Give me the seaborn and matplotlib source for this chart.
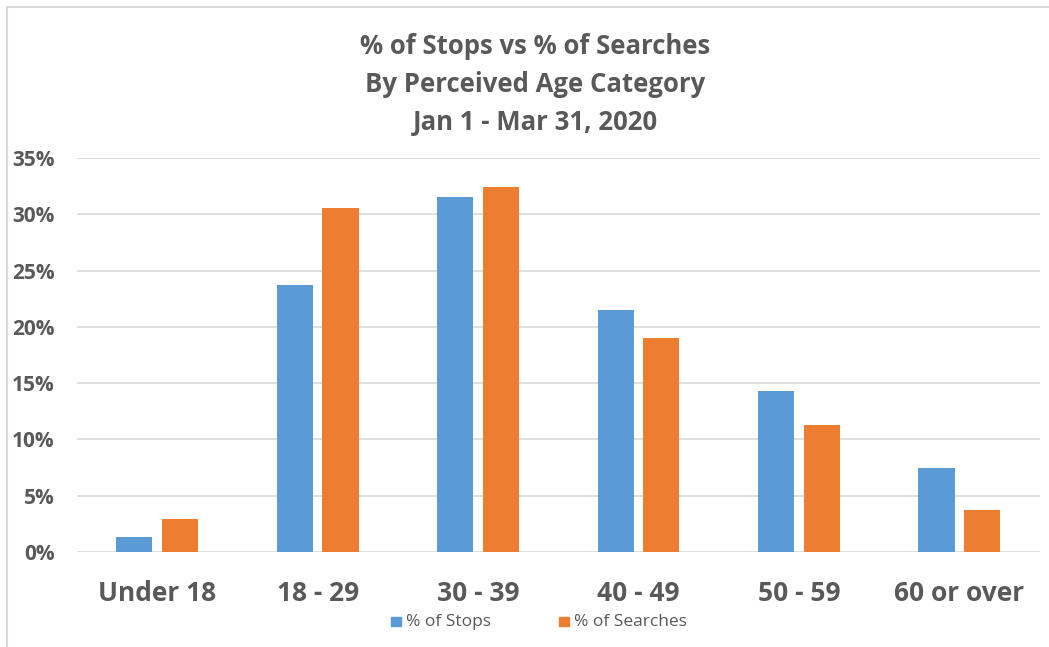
import matplotlib
matplotlib.use("Agg")
import matplotlib.pyplot as plt
import seaborn as sns
import pandas as pd
from matplotlib.ticker import PercentFormatter
from matplotlib.patches import Rectangle

# data
age_groups = ["Under 18", "18 - 29", "30 - 39", "40 - 49", "50 - 59", "60 or over"]
pct_stops = [1.3, 23.7, 31.5, 21.5, 14.3, 7.5]
pct_searches = [2.9, 30.6, 32.4, 19.0, 11.3, 3.7]
series_names = ["% of Stops", "% of Searches"]
y_ticks = [0, 5, 10, 15, 20, 25, 30, 35]

df = pd.DataFrame({
    "age": age_groups * 2,
    "value": pct_stops + pct_searches,
    "series": [series_names[0]] * len(age_groups) + [series_names[1]] * len(age_groups),
})

sns.set_style("white")
plt.rcParams["font.family"] = ["Open Sans", "DejaVu Sans"]
text_grey = "#595959"
blue, orange = "#5B9BD5", "#ED7D31"

fig = plt.figure(figsize=(10.49, 6.47), dpi=100)
ax = fig.add_axes([0.0734, 0.1468, 0.9176, 0.609])

sns.barplot(data=df, x="age", y="value", hue="series", order=age_groups,
            palette=[blue, orange], saturation=1, width=0.57, gap=0.21,
            linewidth=0, ax=ax, legend=False, zorder=3)

ax.set_ylim(0, 35)
ax.set_xlim(-0.5, len(age_groups) - 0.5)
ax.set_yticks(y_ticks)
ax.yaxis.set_major_formatter(PercentFormatter(decimals=0))
ax.grid(axis="y", color="#D9D9D9", linewidth=1.2, zorder=0)
for s in ax.spines.values():
    s.set_visible(False)
ax.set_xlabel("")
ax.set_ylabel("")
ax.tick_params(axis="y", length=0, pad=16, labelsize=15, labelcolor=text_grey)
ax.tick_params(axis="x", length=0, pad=20, labelsize=19, labelcolor=text_grey)
for lbl in ax.get_yticklabels():
    lbl.set_fontweight("bold")
for lbl in ax.get_xticklabels():
    lbl.set_fontweight("bold")

title_lines = ["% of Stops vs % of Searches", "By Perceived Age Category", "Jan 1 - Mar 31, 2020"]
for y, line in zip([0.928, 0.87, 0.811], title_lines):
    fig.text(0.51, y, line, ha="center", va="center",
             fontsize=18.5, fontweight="bold", color=text_grey)

# legend along the bottom
for x, name, color in [(0.373, series_names[0], blue), (0.533, series_names[1], orange)]:
    fig.patches.append(Rectangle((x, 0.032), 0.009, 0.015, transform=fig.transFigure,
                                 color=color, figure=fig))
    fig.text(x + 0.014, 0.038, name, ha="left", va="center", fontsize=12.5, color=text_grey)

# chart frame (only top and left edges show in the crop)
fig.patches.append(Rectangle((0.0067, -0.1), 1.2, 1.089, transform=fig.transFigure,
                             fill=False, edgecolor="#D9D9D9", linewidth=1.5, figure=fig))

fig.savefig("out.png", dpi=100)
